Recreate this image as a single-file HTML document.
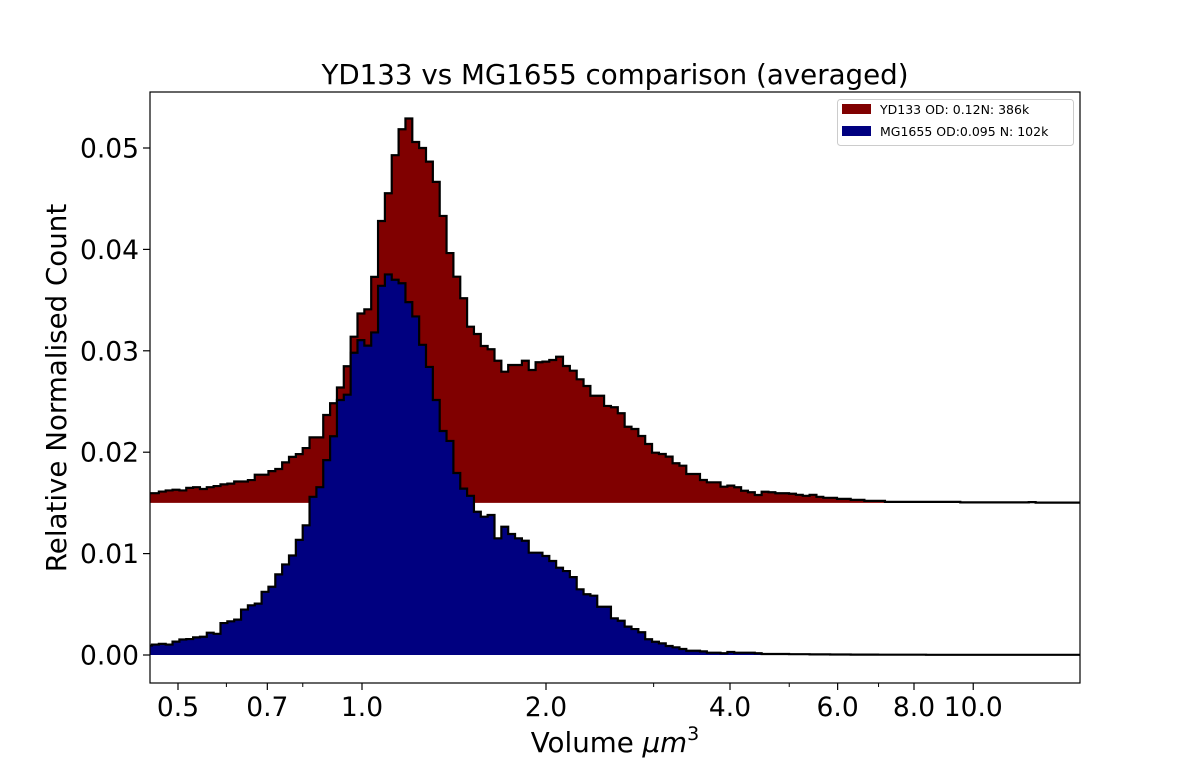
<!DOCTYPE html>
<html><head><meta charset="utf-8">
<style>
html,body{margin:0;padding:0;background:#fff;}
svg{display:block;font-family:"DejaVu Sans","Liberation Sans",sans-serif;}
</style></head>
<body>
<svg id="chart" width="1200" height="766" viewBox="0 0 1200 766" xmlns="http://www.w3.org/2000/svg">
<text x="615" y="84" font-size="27.7" text-anchor="middle" fill="#000">YD133 vs MG1655 comparison (averaged)</text>
<g id="plot"></g>
<text x="615" y="752" font-size="27.7" text-anchor="middle" fill="#000">Volume <tspan font-style="italic">μm</tspan><tspan dy="-12" font-size="19">3</tspan></text>
<text transform="translate(66,388) rotate(-90)" font-size="27.7" text-anchor="middle" fill="#000">Relative Normalised Count</text>
<g>
<rect x="837.5" y="99.5" width="236" height="46" rx="3" fill="#fff" stroke="#ccc"/>
<rect x="842" y="104" width="29" height="10" fill="#800000"/>
<text x="880" y="114" font-size="12.5" fill="#000">YD133 OD: 0.12N: 386k</text>
<rect x="842" y="126" width="29" height="10" fill="#000080"/>
<text x="880" y="136" font-size="12.5" fill="#000">MG1655 OD:0.095 N: 102k</text>
</g>
</svg>
<script>
// Histogram data: bins log-spaced starting at binStart with constant ratio
const binStart = 0.4418;
const binRatio = 1.02614;
const redOffset = 0.015;
// YD133 (displayed level, includes 0.015 offset)
const redValues = [0.01596,0.01596,0.01612,0.01623,0.0163,0.01623,0.01648,0.01655,0.01637,0.01655,
0.01666,0.01683,0.0169,0.01711,0.01711,0.01725,0.01778,0.01778,0.01813,0.01834,
0.019,0.01954,0.01981,0.02041,0.02146,0.02146,0.02367,0.02483,0.02638,0.02848,
0.03139,0.03368,0.03409,0.03729,0.0428,0.04554,0.04929,0.05185,0.05291,0.05059,
0.05,0.04866,0.04666,0.0433,0.03964,0.03731,0.03518,0.03238,0.03166,0.03047,
0.03015,0.02902,0.02794,0.0286,0.0286,0.02902,0.02811,0.02887,0.02893,0.02909,
0.02942,0.0285,0.02804,0.02719,0.02653,0.02557,0.02557,0.02456,0.02443,0.02384,
0.02251,0.02229,0.0216,0.02081,0.01995,0.01982,0.01956,0.01891,0.01867,0.01785,
0.01785,0.01726,0.01703,0.01703,0.0166,0.0167,0.01654,0.0162,0.01605,0.01578,
0.0161,0.01605,0.01595,0.01595,0.0159,0.0158,0.0157,0.0158,0.0156,0.0155,
0.0155,0.0154,0.0154,0.0153,0.0153,0.0152,0.0152,0.0152,0.0151,0.0151,
0.0151,0.0151,0.0151,0.0151,0.0151,0.0151,0.0151,0.0151,0.0151,0.01505,
0.01505,0.01505,0.01505,0.01505,0.01505,0.01505,0.01505,0.01505,0.01505,0.01508,
0.01503,0.01503,0.01503,0.01503,0.01503,0.01503,0.01503];
// MG1655
const blueValues = [0.00093,0.00103,0.0011,0.00103,0.00132,0.00153,0.00157,0.00174,0.0018,0.0022,
0.00209,0.00315,0.00332,0.00349,0.00448,0.0049,0.00507,0.00623,0.00673,0.00795,
0.00893,0.00981,0.01135,0.01279,0.0156,0.01655,0.01922,0.02157,0.02515,0.02567,
0.02981,0.03105,0.03051,0.03181,0.03641,0.03753,0.03701,0.03666,0.0348,0.03339,
0.03059,0.02841,0.02515,0.02209,0.02111,0.01795,0.01641,0.0157,0.01413,0.01364,
0.01381,0.01151,0.01265,0.01193,0.01151,0.01127,0.01009,0.01009,0.00976,0.00927,
0.00861,0.00828,0.00768,0.00648,0.00599,0.00585,0.00476,0.00476,0.00362,0.00338,
0.0028,0.00256,0.00224,0.00155,0.00131,0.00115,0.00089,0.00076,0.00059,0.00042,
0.00042,0.00036,0.00023,0.00023,0.00017,0.0003,0.00023,0.00023,0.00023,0.00017,
0.0001,0.0001,0.0001,0.0001,0.00008,0.00008,0.00008,0.00006,0.00006,0.00006,
0.00005,0.00005,0.00005,0.00004,0.00004,0.00004,0.00004,0.00003,0.00003,0.00003,
0.00003,0.00003,0.00003,0.00003,0.00002,0.00002,0.00002,0.00002,0.00002,0.00002,
0.00002,0.00002,0.00002,0.00002,0.00002,0.00002,0.00002,0.00002,0.00002,0.00002,
0.00002,0.00002,0.00002,0.00002,0.00002,0.00002,0.00002];
const xTickValues = [0.5,0.7,1.0,2.0,4.0,6.0,8.0,10.0];
const xTickLabels = ["0.5","0.7","1.0","2.0","4.0","6.0","8.0","10.0"];
const xMinorTicks = [0.6,0.8,3.0,5.0,7.0];
const yTickValues = [0,0.01,0.02,0.03,0.04,0.05];
const yTickLabels = ["0.00","0.01","0.02","0.03","0.04","0.05"];

const L=150,R=1080,T=92,B=683;
function xs(v){return 362+184*Math.log2(v);}
function ys(v){return 655-v*10140;}
const NS="http://www.w3.org/2000/svg";
const plot=document.getElementById('plot');
function mk(tag,attrs,parent){const e=document.createElementNS(NS,tag);for(const k in attrs)e.setAttribute(k,attrs[k]);(parent||plot).appendChild(e);return e;}

const defs=mk('defs',{});
const cp=mk('clipPath',{id:'clip'},defs);
mk('rect',{x:L,y:T,width:R-L,height:B-T},cp);
const g=mk('g',{'clip-path':'url(#clip)'});



function edge(i){return binStart*Math.pow(binRatio,i);}
function series(vals,base,fill,name){
  let top='';
  for(let i=0;i<vals.length;i++){
    const x0=xs(edge(i)),x1=xs(edge(i+1)),y=ys(vals[i]);
    top+=(i===0?'M'+x0+','+ys(base)+' L':' L')+x0+','+y+' L'+x1+','+y;
  }
  const xe=xs(edge(vals.length));
  const area=mk('path',{d:top+' L'+xe+','+ys(base)+' Z',fill:fill,stroke:'none'},g);
  
  
  const line=mk('path',{d:top+' L'+xe+','+ys(base),fill:'none',stroke:'#000','stroke-width':2.2,'stroke-linejoin':'miter'},g);
  
  
}
series(redValues,redOffset,'#800000','yd133-histogram');
series(blueValues,0,'#000080','mg1655-histogram');

const frame=mk('rect',{x:L,y:T,width:R-L,height:B-T,fill:'none',stroke:'#000','stroke-width':1.2});



xTickValues.forEach((v,i)=>{
  const x=xs(v);
  const t=mk('line',{x1:x,x2:x,y1:B,y2:B+7,stroke:'#000','stroke-width':1.2});
  
  
  const tx=mk('text',{x:x,y:B+33,'font-size':26.5,'text-anchor':'middle',fill:'#000'});
  tx.textContent=xTickLabels[i];
  
  
});
xMinorTicks.forEach(v=>{
  const x=xs(v);
  const t=mk('line',{x1:x,x2:x,y1:B,y2:B+4,stroke:'#000','stroke-width':1});
  
  
});
yTickValues.forEach((v,i)=>{
  const y=ys(v);
  const t=mk('line',{x1:L-7,x2:L,y1:y,y2:y,stroke:'#000','stroke-width':1.2});
  
  
  const tx=mk('text',{x:L-11,y:y+9.5,'font-size':26.5,'text-anchor':'end',fill:'#000'});
  tx.textContent=yTickLabels[i];
  
  
});
</script>
</body></html>
